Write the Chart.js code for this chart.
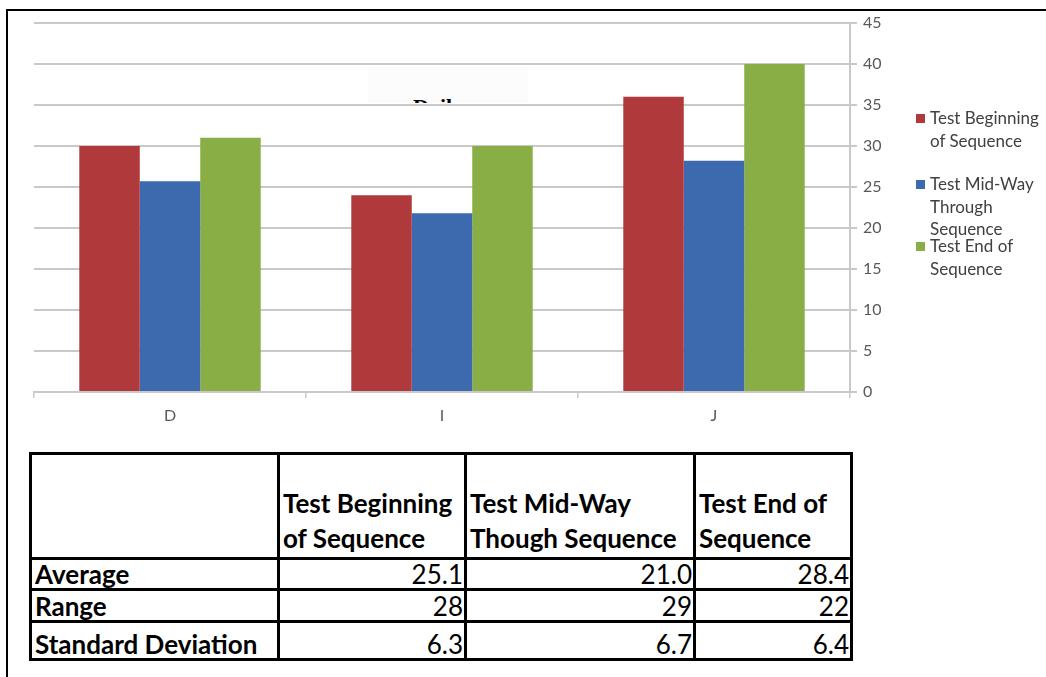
<!DOCTYPE html>
<html>
<head>
<meta charset="utf-8">
<script src="https://cdn.jsdelivr.net/npm/chart.js@4/dist/chart.umd.min.js"></script>
<style>
  body { margin: 0; background: #fff; width: 1046px; height: 677px; position: relative; overflow: hidden; font-family: Lato, "Open Sans", sans-serif; }
  .frame { position: absolute; left: 6px; top: 9px; width: 1100px; height: 700px; border-left: 2px solid #000; border-top: 2px solid #000; }
  #wrap { position: absolute; left: 0; top: 0; width: 1046px; height: 440px; }
  .title-box { position: absolute; left: 368px; top: 66px; width: 160px; height: 37px; background: #fcfcfc; overflow: hidden; }
  .title-box span { position: absolute; left: 45px; top: 30px; font: bold 22px "Liberation Serif", serif; line-height: 22px; color: #000; }
  .legend-item { position: absolute; left: 916px; font-size: 17px; line-height: 22.5px; color: #404040; padding-left: 14px; white-space: nowrap; }
  .legend-item i { position: absolute; left: 0; top: 7px; width: 9px; height: 9px; }
  table { position: absolute; left: 29px; top: 452px; border-collapse: collapse; table-layout: fixed; font-size: 26px; color: #000; }
  td { border: 3px solid #000; padding: 0 1px 0 3px; line-height: 27px; vertical-align: bottom; white-space: nowrap; overflow: hidden; }
  td.lab { font-weight: bold; text-align: left; }
  td.num { text-align: right; }
  tr.head td { font-weight: bold; line-height: 35px; padding-bottom: 1px; }
</style>
</head>
<body>
<div class="frame"></div>
<div id="wrap"><canvas id="myChart" width="1046" height="440"></canvas></div>
<div class="title-box"><span>Daily</span></div>
<div id="legend"></div>
<table id="stats"></table>
<script>
// --------------------------------------------------
const categories = ["D", "I", "J"];
const seriesNames = ["Test Beginning of Sequence", "Test Mid-Way Through Sequence", "Test End of Sequence"];
const legendLines = [["Test Beginning", "of Sequence"], ["Test Mid-Way", "Through", "Sequence"], ["Test End of", "Sequence"]];
const beginning = [30, 24, 36];
const midWay = [25.7, 21.8, 28.2];
const endSeq = [31, 30, 40];
const colors = ["#b0393b", "#3d6aae", "#89ae46"];
const yTicks = [0, 5, 10, 15, 20, 25, 30, 35, 40, 45];

// table data
const tableHead = ["", "Test Beginning<br>of Sequence", "Test Mid-Way<br>Though Sequence", "Test End of<br>Sequence"];
const rowLabels = ["Average", "Range", "Standard Deviation"];
const averages = ["25.1", "21.0", "28.4"];
const ranges = ["28", "29", "22"];
const stdDevs = ["6.3", "6.7", "6.4"];

// --------------------------------------------------
const gridGray = "#c9c9c9";
const tickFont = { family: "Lato, 'Open Sans', sans-serif", size: 16 };

var ctx = document.getElementById("myChart").getContext("2d");
var myChart = new Chart(ctx, {
  type: "bar",
  data: {
    labels: categories,
    datasets: [beginning, midWay, endSeq].map((d, i) => ({
      label: seriesNames[i],
      data: d,
      backgroundColor: colors[i],
      borderWidth: 0,
      categoryPercentage: 0.667,
      barPercentage: 1.0,
    })),
  },
  options: {
    responsive: false,
    animation: false,
    layout: { padding: { left: 34, right: 146, top: 23, bottom: 0 } },
    plugins: {
      legend: { display: false },
      tooltip: { enabled: false },
    },
    scales: {
      x: {
        afterFit: (s) => { s.height = 48; },
        grid: { display: true, drawOnChartArea: false, offset: true, color: gridGray, tickLength: 6, lineWidth: 1.5 },
        border: { color: gridGray, width: 2 },
        ticks: { color: "#595959", font: tickFont, padding: 8 },
      },
      y: {
        position: "right",
        min: 0,
        max: 45,
        afterFit: (s) => { s.width = 50; },
        afterBuildTicks: (s) => { s.ticks = yTicks.map((v) => ({ value: v })); },
        grid: { color: gridGray, lineWidth: 2, tickLength: 7 },
        border: { color: gridGray, width: 2 },
        ticks: { color: "#595959", font: tickFont, padding: 6 },
      },
    },
  },
});

// --------------------------------------------------
// legend (Excel style, items overlap a bit like the source)
const legendTops = [107, 173, 235];
const legend = document.getElementById("legend");
legendLines.forEach((lines, i) => {
  const div = document.createElement("div");
  div.className = "legend-item";
  div.style.top = legendTops[i] + "px";
  div.innerHTML = '<i style="background:' + colors[i] + '"></i>' + lines.join("<br>");
  legend.appendChild(div);
});

// --------------------------------------------------
const colWidths = [245, 184, 226, 154];
const table = document.getElementById("stats");
let html = "<colgroup>" + colWidths.map((w) => '<col style="width:' + (w + 3) + 'px">').join("") + "</colgroup>";
html += '<tr class="head">' + tableHead.map((h) => '<td class="lab" style="height:101px">' + h + "</td>").join("") + "</tr>";
const rows = [averages, ranges, stdDevs];
const rowHeights = [28, 29, 35];
rows.forEach((r, i) => {
  html += '<tr><td class="lab" style="height:' + rowHeights[i] + 'px">' + rowLabels[i] + "</td>" + r.map((v) => '<td class="num">' + v + "</td>").join("") + "</tr>";
});
table.innerHTML = html;
table.style.width = colWidths.reduce((a, b) => a + b + 3, 0) + "px";
</script>
</body>
</html>
